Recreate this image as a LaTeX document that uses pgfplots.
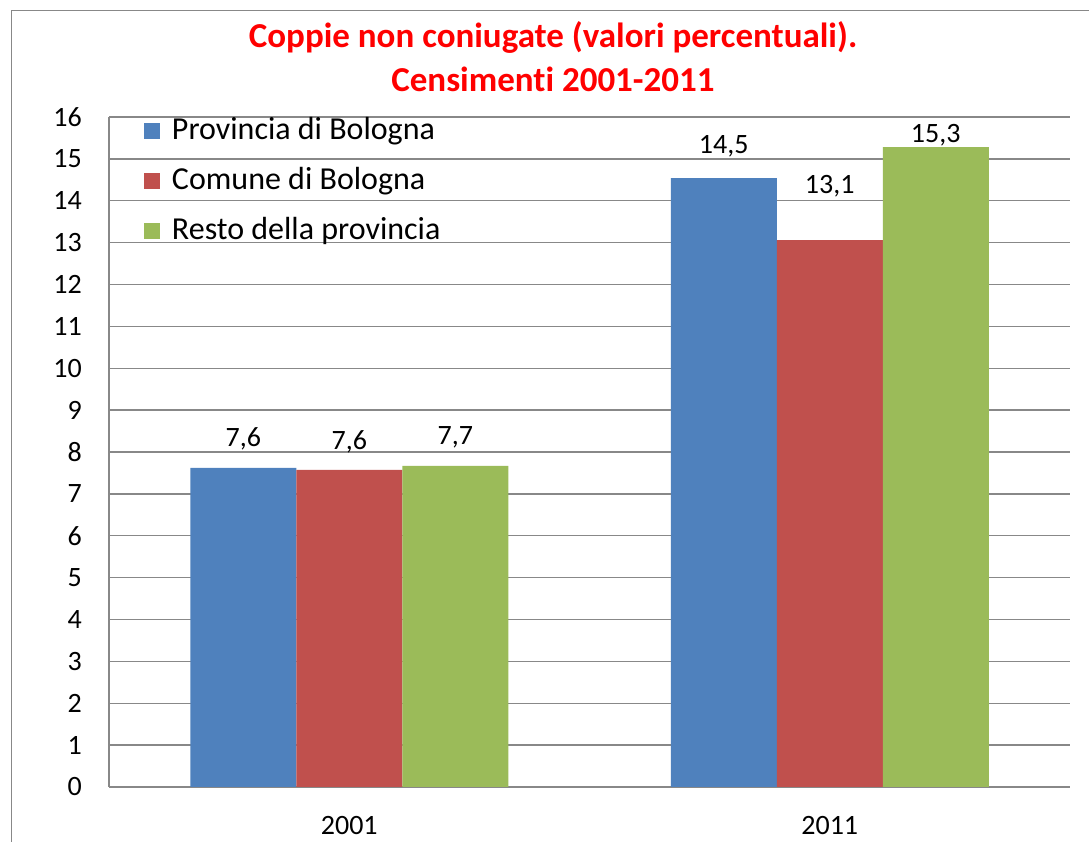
\documentclass[border=0pt]{standalone}
\usepackage{pgfplots}
\pgfplotsset{compat=1.18}
\usepackage{pgfplotstable}
\usepackage{fontspec}
\setmainfont{Carlito}[Ligatures=NoCommon]
\definecolor{cblue}{HTML}{4F81BD}
\definecolor{cred}{HTML}{C0504D}
\definecolor{cgreen}{HTML}{9BBB59}
\definecolor{gridc}{HTML}{888888}
\newcommand\numf{\fontsize{28}{34}\selectfont}
\newcommand\legf{\fontsize{32}{38}\selectfont}
\newcommand\titf{\fontsize{35}{42}\selectfont\bfseries}

\pgfplotstableread{
x y off
0 7.62 21
1 14.54 25
}\provincia
\pgfplotstableread{
x y off
0 7.57 20
1 13.06 47
}\comune
\pgfplotstableread{
x y off
0 7.67 21
1 15.28 5
}\resto

\begin{document}
\begin{tikzpicture}[x=1pt,y=1pt]
\path[use as bounding box] (0,0) rectangle (1089,842);
\draw[gridc, line width=1.5pt] (11.5,0) -- (11.5,831.5) -- (1089,831.5);
\node[anchor=base, text=red, font=\titf, inner sep=0pt] at (553,794) {Coppie non coniugate (valori percentuali).};
\node[anchor=base, text=red, font=\titf, inner sep=0pt] at (553,750) {Censimenti 2001-2011};
\begin{axis}[
  at={(109pt,55pt)}, anchor=south west,
  scale only axis, width=961pt, height=670pt,
  xmin=-0.5, xmax=1.5, ymin=0, ymax=16,
  ytick={0,1,...,16}, xtick={0,1}, xticklabels={2001,2011},
  axis x line=bottom, axis y line=left,
  axis line style={-, gridc, line width=1.3pt},
  ymajorgrids, grid style={gridc, line width=1.3pt},
  major tick length=0pt, tick style={draw=none},
  /pgf/number format/assume math mode=true,
  tick label style={font=\numf, text=black},
  yticklabel style={anchor=east, inner sep=0pt, xshift=-27pt},
  xticklabel style={anchor=base, inner sep=0pt, yshift=-48pt},
  ybar=0pt, bar width=106pt,
  nodes near coords={\pgfmathprintnumber[fixed,fixed zerofill,precision=1,use comma]{\pgfplotspointmeta}},
  visualization depends on={\thisrow{off} \as \labeloff},
  nodes near coords style={anchor=base, inner sep=0pt, yshift=\labeloff pt, font=\numf, text=black},
  legend cell align=left,
  legend style={at={(axis description cs:0.0364,0.9985)}, anchor=north west,
    draw=none, fill=none, inner sep=0pt, outer sep=0pt,
    row sep=20pt, column sep=12pt, font=\legf,
    nodes={inner sep=0pt, text height=22pt, text depth=8pt}},
  legend image code/.code={\fill[#1] (0pt,-6pt) rectangle (16pt,10pt);},
]
\addplot[fill=cblue, draw=none] table[x=x, y=y] {\provincia};
\addlegendentry{Provincia di Bologna}
\addplot[fill=cred, draw=none] table[x=x, y=y] {\comune};
\addlegendentry{Comune di Bologna}
\addplot[fill=cgreen, draw=none] table[x=x, y=y] {\resto};
\addlegendentry{Resto della provincia}
\end{axis}
\end{tikzpicture}
\end{document}
